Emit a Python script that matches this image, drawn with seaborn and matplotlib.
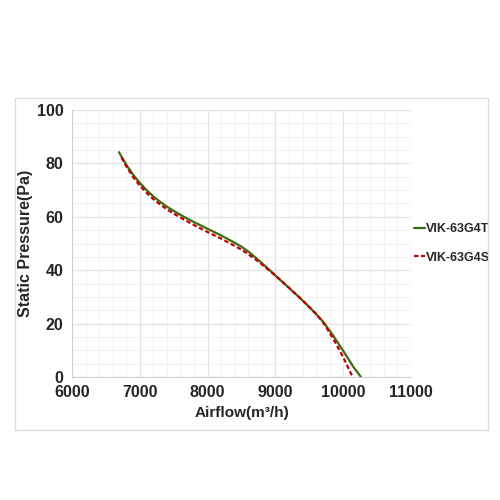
import matplotlib
matplotlib.use("Agg")
import matplotlib.pyplot as plt
import pandas as pd
import seaborn as sns
from matplotlib.patches import Rectangle
from matplotlib.ticker import MultipleLocator

# fan curves
airflow_t = [6693, 6800, 6900, 7000, 7100, 7200, 7300, 7400, 7500, 7630, 7800, 8000, 8200, 8370, 8500,
             8620, 8750, 8890, 9000, 9100, 9200, 9350, 9500, 9600, 9700, 9850, 10000, 10150, 10262]
pressure_t = [84.2, 79.5, 75.8, 72.7, 70, 67.6, 65.6, 63.8, 62.2, 60.3, 58, 55.5, 53, 50.7, 48.8,
              46.6, 43.8, 40.6, 38, 35.7, 33.4, 29.9, 26.2, 23.6, 20.8, 15.6, 9.8, 3.8, 0]

airflow_s = [6730, 6800, 6900, 7000, 7100, 7200, 7300, 7400, 7500, 7630, 7800, 8000, 8200, 8370, 8500,
             8620, 8750, 8890, 9000, 9100, 9200, 9350, 9500, 9600, 9700, 9775, 9850, 9925, 10000, 10139]
pressure_s = [82.2, 79, 74.9, 71.7, 69, 66.6, 64.6, 62.8, 61.2, 59.3, 56.9, 54.3, 51.8, 49.5, 47.7,
              45.6, 43.2, 40.3, 38, 35.7, 33.4, 29.9, 26.2, 23.6, 20.6, 17.6, 14.4, 11, 7.4, 0]

df = pd.concat([
    pd.DataFrame({"Airflow": airflow_t, "Pressure": pressure_t, "Model": "VIK-63G4T"}),
    pd.DataFrame({"Airflow": airflow_s, "Pressure": pressure_s, "Model": "VIK-63G4S"}),
])

sns.set_style("white")
plt.rcParams["font.family"] = ["Liberation Sans", "DejaVu Sans"]

fig = plt.figure(figsize=(5, 5), dpi=100)
fig.patches.append(Rectangle((0.03, 0.14), 0.946, 0.664, transform=fig.transFigure,
                             fill=False, edgecolor="#dddddd", linewidth=1))
ax = fig.add_axes([0.144, 0.246, 0.678, 0.534])

sns.lineplot(data=df, x="Airflow", y="Pressure", hue="Model", style="Model",
             palette={"VIK-63G4T": "#3d6b14", "VIK-63G4S": "#c00000"},
             dashes={"VIK-63G4T": "", "VIK-63G4S": (2, 1.2)},
             linewidth=1.6, sort=False, ax=ax)

ax.set_xlim(6000, 11000)
ax.set_ylim(0, 100)
ax.xaxis.set_major_locator(MultipleLocator(1000))
ax.xaxis.set_minor_locator(MultipleLocator(200))
ax.yaxis.set_major_locator(MultipleLocator(20))
ax.yaxis.set_minor_locator(MultipleLocator(5))
ax.grid(which="major", color="#e2e2e2", linewidth=0.9)
ax.grid(which="minor", color="#f1f1f1", linewidth=0.7)
ax.set_axisbelow(True)
for s in ["top", "right"]:
    ax.spines[s].set_visible(False)
for s in ["left", "bottom"]:
    ax.spines[s].set_color("#d0d0d0")
ax.tick_params(which="major", length=4, color="#d0d0d0", labelsize=11.5, pad=2)
ax.tick_params(which="minor", length=0)
for lab in ax.get_xticklabels() + ax.get_yticklabels():
    lab.set_fontweight("bold")

ax.set_xlabel("Airflow(m³/h)", fontsize=11, fontweight="bold", labelpad=4)
ax.set_ylabel("Static Pressure(Pa)", fontsize=11.5, fontweight="bold", labelpad=3)

leg = ax.legend(loc="center left", bbox_to_anchor=(0.975, 0.5), frameon=False,
                handlelength=0.9, handletextpad=0.1, labelspacing=1.3,
                prop={"weight": "bold", "size": 9})

fig.savefig("out.png", dpi=100)
